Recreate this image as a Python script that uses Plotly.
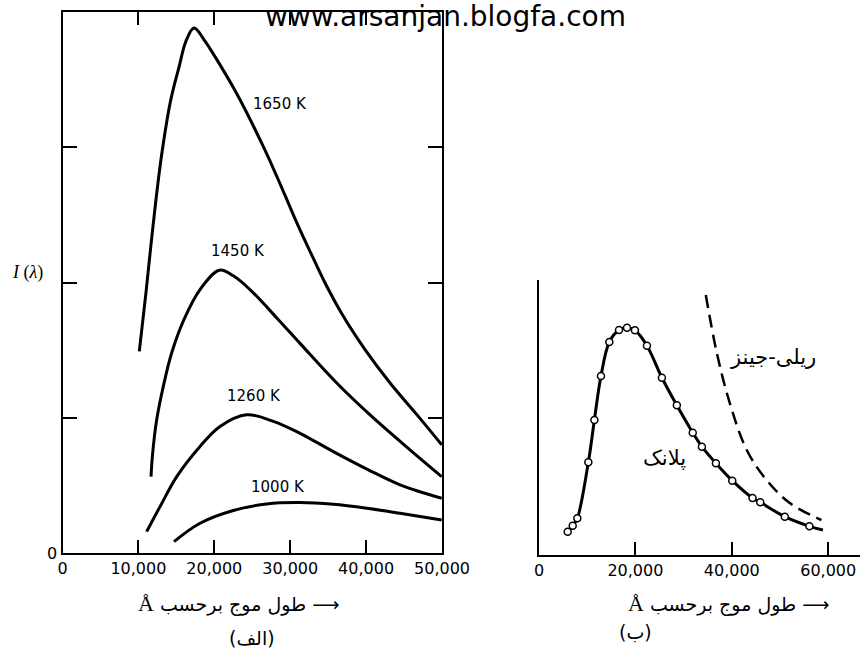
import plotly.graph_objects as go

# ---------------- data: panel (a) (الف) ----------------
x_1650 = [10120, 11000, 11920, 12980, 14230, 15350, 16270, 17330, 18770, 20090, 21410, 22730, 24040, 25360, 26680, 28000, 29320, 31070, 32740, 34580, 37000, 39860, 43160, 46880, 49960]
y_1650 = [1.491, 1.926, 2.415, 2.911, 3.341, 3.593, 3.785, 3.881, 3.785, 3.670, 3.548, 3.419, 3.281, 3.133, 2.978, 2.815, 2.644, 2.417, 2.215, 1.998, 1.750, 1.504, 1.257, 1.010, 0.800]

x_1450 = [11660, 11880, 12410, 13280, 14380, 16000, 18120, 20660, 22500, 24700, 28200, 31290, 36130, 40740, 45780, 49960]
y_1450 = [0.565, 0.739, 0.985, 1.232, 1.479, 1.726, 1.948, 2.091, 2.050, 1.948, 1.740, 1.550, 1.257, 1.010, 0.763, 0.565]

x_1260 = [11090, 12850, 15050, 18120, 20750, 24270, 27780, 31290, 35680, 40300, 44470, 49960]
y_1260 = [0.158, 0.343, 0.565, 0.788, 0.936, 1.022, 0.973, 0.885, 0.750, 0.615, 0.504, 0.405]

x_1000 = [14690, 18120, 22500, 26900, 31290, 35680, 40080, 44470, 49960]
y_1000 = [0.084, 0.220, 0.314, 0.363, 0.373, 0.360, 0.331, 0.294, 0.244]

temp_labels = ["1650 K", "1450 K", "1260 K", "1000 K"]
temp_label_x = [28660, 23120, 25200, 28400]
temp_label_y = [3.319, 2.230, 1.160, 0.489]

a_xticks = [0, 10000, 20000, 30000, 40000, 50000]
a_yticks = [0, 1, 2, 3]
a_yticktext = ["0", "", "", ""]

# ---------------- data: panel (b) (ب) ----------------
planck_x = [5950, 6990, 7950, 10240, 11490, 12860, 14590, 16600, 18260, 19900, 22400, 25500, 28600, 31900, 33800, 36700, 40100, 44300, 45900, 51000, 56100]
planck_y = [0.233, 0.293, 0.367, 0.927, 1.350, 1.790, 2.130, 2.250, 2.273, 2.247, 2.093, 1.773, 1.497, 1.223, 1.083, 0.917, 0.743, 0.570, 0.527, 0.383, 0.287]
planck_end_x = [58900]
planck_end_y = [0.250]

rj_x = [34600, 36900, 39600, 43100, 47200, 52100, 58600]
rj_y = [2.60, 2.02, 1.517, 1.05, 0.75, 0.517, 0.35]

b_xticks = [0, 20000, 40000, 60000]

W, H = 861, 649

def px(x):
    return x / W

def py(y):
    return 1 - y / H

fig = go.Figure()

for xs, ys in [(x_1650, y_1650), (x_1450, y_1450), (x_1260, y_1260), (x_1000, y_1000)]:
    fig.add_trace(go.Scatter(x=xs, y=ys, mode="lines", xaxis="x", yaxis="y",
                             line=dict(color="black", width=3, shape="spline", smoothing=1.0),
                             showlegend=False, hoverinfo="skip"))

fig.add_trace(go.Scatter(x=planck_x + planck_end_x, y=planck_y + planck_end_y, mode="lines",
                         xaxis="x2", yaxis="y2",
                         line=dict(color="black", width=3, shape="spline", smoothing=1.0),
                         showlegend=False, hoverinfo="skip"))
fig.add_trace(go.Scatter(x=planck_x, y=planck_y, mode="markers", xaxis="x2", yaxis="y2",
                         marker=dict(symbol="circle", size=7, color="white",
                                     line=dict(color="black", width=1.5)),
                         showlegend=False, hoverinfo="skip"))
fig.add_trace(go.Scatter(x=rj_x, y=rj_y, mode="lines", xaxis="x2", yaxis="y2",
                         line=dict(color="black", width=2.5, shape="spline", dash="13px,7px"),
                         showlegend=False, hoverinfo="skip"))

tickfont = dict(family="DejaVu Sans", size=16, color="black")

annotations = []
for t, xx, yy in zip(temp_labels, temp_label_x, temp_label_y):
    annotations.append(dict(x=xx, y=yy, xref="x", yref="y", text=t, showarrow=False,
                            xanchor="center", yanchor="middle",
                            font=dict(family="DejaVu Sans", size=15, color="black")))

annotations.append(dict(x=48500, y=1.98, xref="x2", yref="y2", text="ریلی-جینز", showarrow=False,
                        xanchor="center", yanchor="middle",
                        font=dict(family="DejaVu Sans", size=21, color="black")))
annotations.append(dict(x=26100, y=0.97, xref="x2", yref="y2", text="پلانک", showarrow=False,
                        xanchor="center", yanchor="middle",
                        font=dict(family="DejaVu Sans", size=21, color="black")))

arab_font = dict(family="DejaVu Sans", size=19, color="black")
axis_title = '<span style="font-family:Liberation Serif;font-size:22px">Å</span> طول موج برحسب ⟶'

def paper_note(x, y, text, font):
    return dict(x=px(x), y=py(y), xref="paper", yref="paper", text=text, showarrow=False,
                xanchor="center", yanchor="middle", font=font)

annotations += [
    paper_note(445.5, 16, "www.arsanjan.blogfa.com", dict(family="DejaVu Sans", size=28, color="black")),
    paper_note(27, 272, "<i>I</i> (<i>λ</i>)", dict(family="Liberation Serif", size=18, color="black")),
    paper_note(238, 603, axis_title, arab_font),
    paper_note(252, 638, "(الف)", arab_font),
    paper_note(728, 603, axis_title, arab_font),
    paper_note(635, 632, "(ب)", arab_font),
]

fig.update_layout(
    width=W, height=H,
    margin=dict(l=0, r=0, t=0, b=0, autoexpand=False),
    paper_bgcolor="white", plot_bgcolor="white",
    showlegend=False,
    xaxis=dict(domain=[px(62.5), px(442)], range=[0, 50000], tickvals=a_xticks, tickformat=",",
               ticks="inside", ticklen=13, tickwidth=1.5, tickcolor="black",
               showline=True, linecolor="black", linewidth=2, mirror="ticks",
               showgrid=False, zeroline=False, tickfont=tickfont, anchor="y", automargin=False),
    yaxis=dict(domain=[py(553), py(12)], range=[0, 4], tickvals=a_yticks, ticktext=a_yticktext,
               ticks="inside", ticklen=14, tickwidth=1.5, tickcolor="black",
               showline=True, linecolor="black", linewidth=2, mirror="ticks",
               showgrid=False, zeroline=False, tickfont=tickfont, anchor="x", automargin=False),
    xaxis2=dict(domain=[px(539), px(860)], range=[0, 66600], tickvals=b_xticks, tickformat=",",
                ticks="inside", ticklen=13, tickwidth=2, tickcolor="black",
                showline=True, linecolor="black", linewidth=2,
                showgrid=False, zeroline=False, tickfont=tickfont, anchor="y2", automargin=False),
    yaxis2=dict(domain=[py(555), py(280)], range=[0, 2.75],
                showticklabels=False, ticks="",
                showline=True, linecolor="black", linewidth=2,
                showgrid=False, zeroline=False, anchor="x2", automargin=False),
    annotations=annotations,
)

fig.write_html("out.html", config={"displayModeBar": False},
               post_script="document.body.style.margin='0px';")
